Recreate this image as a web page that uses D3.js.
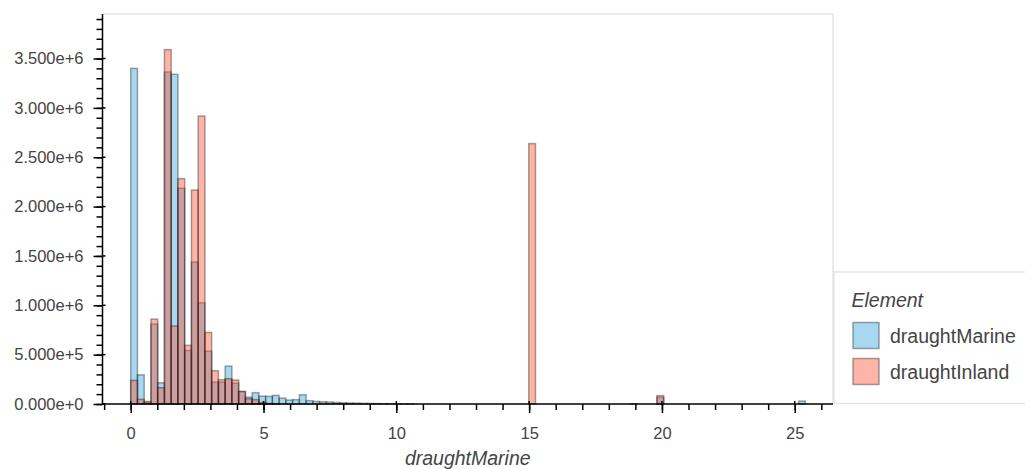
<!DOCTYPE html>
<html>
<head>
<meta charset="utf-8">
<script src="https://cdn.jsdelivr.net/npm/d3@7"></script>
<style>
  html, body { margin: 0; padding: 0; background: #fff; }
  svg { display: block; font-family: "Liberation Sans", Arial, Helvetica, sans-serif; }
</style>
</head>
<body>
<svg id="chart" width="1025" height="469"></svg>
<script>
// ---- data (counts per bin, in units of 1e6) ----
const binStart = 0;
const binWidth = 0.254;
const seriesNames = ["draughtMarine", "draughtInland"];
const seriesColors = ["#30a2da", "#fc4f30"];
const draughtMarine = [
  3.400, 0.295, 0.015, 0.810, 0.215, 3.364, 3.340, 2.185, 0.543, 1.438,
  1.025, 0.535, 0.222, 0.222, 0.384, 0.212, 0.125, 0.070, 0.115, 0.080,
  0.077, 0.087, 0.060, 0.040, 0.044, 0.094, 0.034, 0.026, 0.022, 0.020,
  0.015, 0.012, 0.010, 0.008, 0.006, 0.005, 0.004, 0.003, 0.002, 0.002,
  0.001, 0.001, 0, 0, 0, 0, 0, 0, 0, 0,
  0, 0, 0, 0, 0, 0, 0, 0, 0, 0,
  0, 0, 0, 0, 0, 0, 0, 0, 0, 0,
  0, 0, 0, 0, 0.003, 0, 0, 0, 0.070, 0,
  0, 0, 0, 0, 0, 0, 0, 0, 0, 0,
  0, 0, 0, 0, 0, 0, 0, 0, 0, 0.030
];
const draughtInland = [
  0.239, 0.047, 0.026, 0.860, 0.165, 3.590, 0.790, 2.283, 0.594, 2.168,
  2.917, 0.725, 0.337, 0.246, 0.256, 0.243, 0.128, 0.053, 0.044, 0.015,
  0.006, 0.003, 0, 0, 0, 0, 0, 0, 0, 0,
  0, 0, 0, 0, 0, 0, 0, 0, 0, 0,
  0, 0, 0, 0, 0, 0, 0, 0, 0, 0,
  0, 0, 0, 0, 0, 0, 0, 0, 0, 2.638,
  0, 0, 0, 0, 0, 0, 0, 0, 0, 0,
  0, 0, 0, 0, 0, 0, 0, 0, 0.085, 0,
  0, 0, 0, 0, 0, 0, 0, 0, 0, 0,
  0, 0, 0, 0, 0, 0, 0, 0, 0, 0
];
const xMajorTicks = [0, 5, 10, 15, 20, 25];
const yMajorTicks = [0, 0.5, 1.0, 1.5, 2.0, 2.5, 3.0, 3.5];
const xLabel = "draughtMarine";
const legendTitle = "Element";

// ---- layout ----
const svg = d3.select("#chart");
const frame = { left: 102.5, right: 833, top: 14, bottom: 404 };
const x = d3.scaleLinear().domain([-1.062, 26.44]).range([frame.left, frame.right]);
const y = d3.scaleLinear().domain([0, 3.951]).range([frame.bottom, frame.top]);
const fillAlpha = 0.42;
const lineAlpha = 0.35;

// frame outline (top & right)
svg.append("path")
  .attr("d", `M${frame.left},${frame.top}H${frame.right}V${frame.bottom}`)
  .attr("fill", "none").attr("stroke", "#e5e5e5").attr("stroke-width", 1.5);

// bars
const seriesData = [draughtMarine, draughtInland];
seriesData.forEach((vals, si) => {
  svg.append("g").selectAll("rect")
    .data(vals.map((v, i) => ({ v, x0: binStart + i * binWidth, x1: binStart + (i + 1) * binWidth }))
      .filter(d => d.v > 0))
    .join("rect")
    .attr("x", d => x(d.x0))
    .attr("width", d => x(d.x1) - x(d.x0))
    .attr("y", d => y(d.v))
    .attr("height", d => y(0) - y(d.v))
    .attr("fill", seriesColors[si])
    .attr("fill-opacity", fillAlpha)
    .attr("stroke", "#000")
    .attr("stroke-opacity", lineAlpha)
    .attr("stroke-width", 1.5);
});

// axes
const xMinor = d3.range(-1, 27, 1);
const yMinor = d3.range(0, 40, 1).map(d => d / 10);

const xAxisG = svg.append("g").attr("transform", `translate(0,${frame.bottom})`);
xAxisG.call(d3.axisBottom(x).tickValues(xMinor).tickSize(6).tickFormat(""));
xAxisG.append("g").call(d3.axisBottom(x).tickValues(xMajorTicks).tickSizeInner(9).tickSizeOuter(0).tickPadding(14).tickFormat(d3.format("d")));
xAxisG.selectAll(".domain").remove();
xAxisG.append("line").attr("x1", frame.left).attr("x2", frame.right).attr("stroke", "#000").attr("stroke-width", 1.5);
xAxisG.selectAll(".tick line").attr("stroke", "#000").attr("stroke-width", 1.5);
xAxisG.append("g").selectAll("line").data(xMajorTicks).join("line")
  .attr("x1", d => x(d)).attr("x2", d => x(d)).attr("y1", 0).attr("y2", -3)
  .attr("stroke", "#000").attr("stroke-width", 1.5);
xAxisG.selectAll(".tick text").attr("font-size", 16.5).attr("fill", "#444")
  .attr("font-family", "'Liberation Sans', Arial, sans-serif");

const yAxisG = svg.append("g").attr("transform", `translate(${frame.left},0)`);
yAxisG.call(d3.axisLeft(y).tickValues(yMinor).tickSize(6).tickFormat(""));
yAxisG.append("g").call(d3.axisLeft(y).tickValues(yMajorTicks).tickSizeInner(9).tickSizeOuter(0).tickPadding(10)
  .tickFormat(d => d3.format(".3e")(d * 1e6)));
yAxisG.selectAll(".domain").remove();
yAxisG.append("line").attr("y1", frame.top).attr("y2", frame.bottom + 0.75).attr("stroke", "#000").attr("stroke-width", 1.5);
yAxisG.selectAll(".tick line").attr("stroke", "#000").attr("stroke-width", 1.5);
yAxisG.append("g").selectAll("line").data(yMajorTicks).join("line")
  .attr("y1", d => y(d)).attr("y2", d => y(d)).attr("x1", 0).attr("x2", 3)
  .attr("stroke", "#000").attr("stroke-width", 1.5);
yAxisG.selectAll(".tick text").attr("font-size", 16.5).attr("fill", "#444")
  .attr("font-family", "'Liberation Sans', Arial, sans-serif");

// x axis label
svg.append("text")
  .attr("x", (frame.left + frame.right) / 2).attr("y", 465)
  .attr("text-anchor", "middle").attr("font-size", 19.5).attr("font-style", "italic")
  .attr("fill", "#444").text(xLabel);

// legend
const lg = svg.append("g");
lg.append("rect").attr("x", 834).attr("y", 272).attr("width", 200).attr("height", 131.5)
  .attr("fill", "#fff").attr("stroke", "#e5e5e5").attr("stroke-width", 1.5);
lg.append("text").attr("x", 851.5).attr("y", 306.5).attr("font-size", 19.5)
  .attr("font-style", "italic").attr("fill", "#444").text(legendTitle);
seriesNames.forEach((name, i) => {
  const yTop = 322.5 + i * 36;
  lg.append("rect").attr("x", 853).attr("y", yTop).attr("width", 26).attr("height", 26)
    .attr("fill", seriesColors[i]).attr("fill-opacity", fillAlpha)
    .attr("stroke", "#000").attr("stroke-opacity", lineAlpha).attr("stroke-width", 1.5);
  lg.append("text").attr("x", 890).attr("y", yTop + 20.5).attr("font-size", 19.5)
    .attr("fill", "#444").text(name);
});
</script>
</body>
</html>
